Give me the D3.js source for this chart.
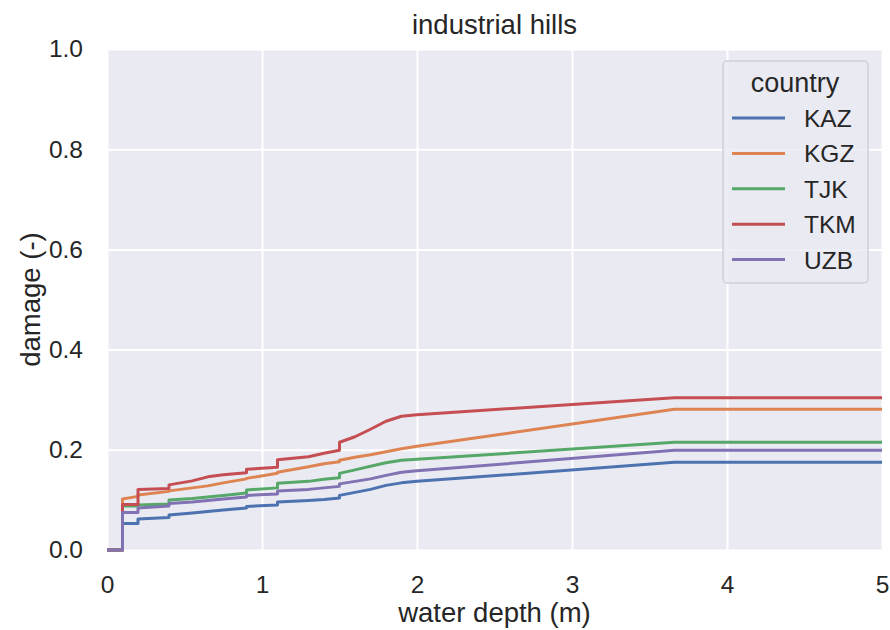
<!DOCTYPE html>
<html>
<head>
<meta charset="utf-8">
<script src="https://cdn.jsdelivr.net/npm/d3@7"></script>
<style>
  body { margin: 0; background: #fff; }
  text { font-family: "Liberation Sans", Arial, sans-serif; fill: #262626; }
</style>
</head>
<body>
<svg id="chart" width="890" height="630"></svg>
<script>
// water depth (m) sample points, shared by all countries
const depth = [0, 0.1, 0.1, 0.2, 0.2, 0.4, 0.4, 0.55, 0.65, 0.75, 0.9, 0.9, 1.1, 1.1, 1.3, 1.4, 1.5, 1.5, 1.6, 1.7, 1.8, 1.9, 2.0, 3.66, 5];

const countries = ["KAZ", "KGZ", "TJK", "TKM", "UZB"];

const damageKAZ = [0, 0, 0.053, 0.053, 0.062, 0.065, 0.070, 0.074, 0.077, 0.080, 0.084, 0.087, 0.090, 0.096, 0.099, 0.101, 0.104, 0.109, 0.115, 0.121, 0.129, 0.134, 0.137, 0.175, 0.175];
const damageKGZ = [0, 0, 0.102, 0.107, 0.110, 0.117, 0.118, 0.124, 0.128, 0.134, 0.142, 0.143, 0.153, 0.155, 0.166, 0.172, 0.176, 0.179, 0.185, 0.190, 0.196, 0.202, 0.207, 0.281, 0.281];
const damageTJK = [0, 0, 0.088, 0.088, 0.090, 0.092, 0.100, 0.103, 0.106, 0.109, 0.114, 0.120, 0.124, 0.133, 0.137, 0.141, 0.144, 0.153, 0.160, 0.167, 0.174, 0.179, 0.181, 0.215, 0.215];
const damageTKM = [0, 0, 0.091, 0.091, 0.121, 0.123, 0.130, 0.138, 0.146, 0.150, 0.154, 0.161, 0.165, 0.180, 0.186, 0.193, 0.199, 0.215, 0.226, 0.241, 0.257, 0.267, 0.270, 0.304, 0.304];
const damageUZB = [0, 0, 0.075, 0.075, 0.084, 0.088, 0.093, 0.096, 0.099, 0.102, 0.106, 0.109, 0.112, 0.118, 0.121, 0.124, 0.127, 0.132, 0.137, 0.142, 0.149, 0.155, 0.158, 0.199, 0.199];

const xTicks = [0, 1, 2, 3, 4, 5];
const yTicks = [0, 0.2, 0.4, 0.6, 0.8, 1.0];

const series = [damageKAZ, damageKGZ, damageTJK, damageTKM, damageUZB];
const colors = ["#4c72b0", "#dd8452", "#55a868", "#c44e52", "#8172b3"];

const margin = { top: 49, right: 8, bottom: 80, left: 107 };
const svg = d3.select("#chart");
const width = +svg.attr("width");
const height = +svg.attr("height");
const innerWidth = width - margin.left - margin.right;
const innerHeight = height - margin.top - margin.bottom;

const x = d3.scaleLinear().domain([0, 5]).range([0, innerWidth]);
const y = d3.scaleLinear().domain([0, 1]).range([innerHeight, 0]);

const g = svg.append("g").attr("transform", `translate(${margin.left},${margin.top})`);

// background
g.append("rect")
  .attr("width", innerWidth)
  .attr("height", innerHeight)
  .attr("fill", "#eaeaf2");

// grid (no labels here)
g.append("g")
  .attr("transform", `translate(0,${innerHeight})`)
  .call(d3.axisBottom(x).tickValues(xTicks).tickSize(-innerHeight).tickFormat(""))
  .call(a => a.select(".domain").remove())
  .call(a => a.selectAll("text").remove())
  .call(a => a.selectAll("line").attr("stroke", "#fff").attr("stroke-width", 2));

g.append("g")
  .call(d3.axisLeft(y).tickValues(yTicks).tickSize(-innerWidth).tickFormat(""))
  .call(a => a.select(".domain").remove())
  .call(a => a.selectAll("text").remove())
  .call(a => a.selectAll("line").attr("stroke", "#fff").attr("stroke-width", 2));

// tick labels
g.append("g")
  .attr("transform", `translate(0,${innerHeight})`)
  .call(d3.axisBottom(x).tickValues(xTicks).tickSize(0).tickPadding(26).tickFormat(d3.format("d")))
  .call(a => a.select(".domain").remove())
  .call(a => a.selectAll("text")
    .style("font-family", "'Liberation Sans', Arial, sans-serif")
    .style("font-size", "24.5px").attr("fill", "#262626"));

g.append("g")
  .call(d3.axisLeft(y).tickValues(yTicks).tickSize(0).tickPadding(24).tickFormat(d3.format(".1f")))
  .call(a => a.select(".domain").remove())
  .call(a => a.selectAll("text")
    .style("font-family", "'Liberation Sans', Arial, sans-serif")
    .style("font-size", "24.5px").attr("fill", "#262626"));

// lines
const line = d3.line()
  .x((d, i) => x(depth[i]))
  .y(d => y(d));

series.forEach((vals, k) => {
  g.append("path")
    .datum(vals)
    .attr("fill", "none")
    .attr("stroke", colors[k])
    .attr("stroke-width", 3)
    .attr("stroke-linejoin", "round")
    .attr("d", line);
});

// title and axis labels
svg.append("text")
  .attr("x", margin.left + innerWidth / 2)
  .attr("y", 34)
  .attr("text-anchor", "middle")
  .style("font-size", "27.5px")
  .text("industrial hills");

svg.append("text")
  .attr("x", margin.left + innerWidth / 2)
  .attr("y", 622)
  .attr("text-anchor", "middle")
  .style("font-size", "27.5px")
  .text("water depth (m)");

svg.append("text")
  .attr("transform", `translate(40,${margin.top + innerHeight / 2}) rotate(-90)`)
  .attr("text-anchor", "middle")
  .style("font-size", "27.5px")
  .text("damage (-)");

// legend
const legend = svg.append("g").attr("transform", "translate(723,61)");
legend.append("rect")
  .attr("width", 145)
  .attr("height", 222)
  .attr("rx", 4)
  .attr("fill", "#eaeaf2")
  .attr("fill-opacity", 0.8)
  .attr("stroke", "#d0d0d8")
  .attr("stroke-width", 1.5);

legend.append("text")
  .attr("x", 72)
  .attr("y", 31)
  .attr("text-anchor", "middle")
  .style("font-size", "27px")
  .text("country");

countries.forEach((c, i) => {
  const row = legend.append("g").attr("transform", `translate(0,${57 + i * 35.4})`);
  row.append("line")
    .attr("x1", 9).attr("x2", 62)
    .attr("stroke", colors[i])
    .attr("stroke-width", 3);
  row.append("text")
    .attr("x", 81)
    .attr("y", 9)
    .style("font-size", "24.5px")
    .text(c);
});
</script>
</body>
</html>
